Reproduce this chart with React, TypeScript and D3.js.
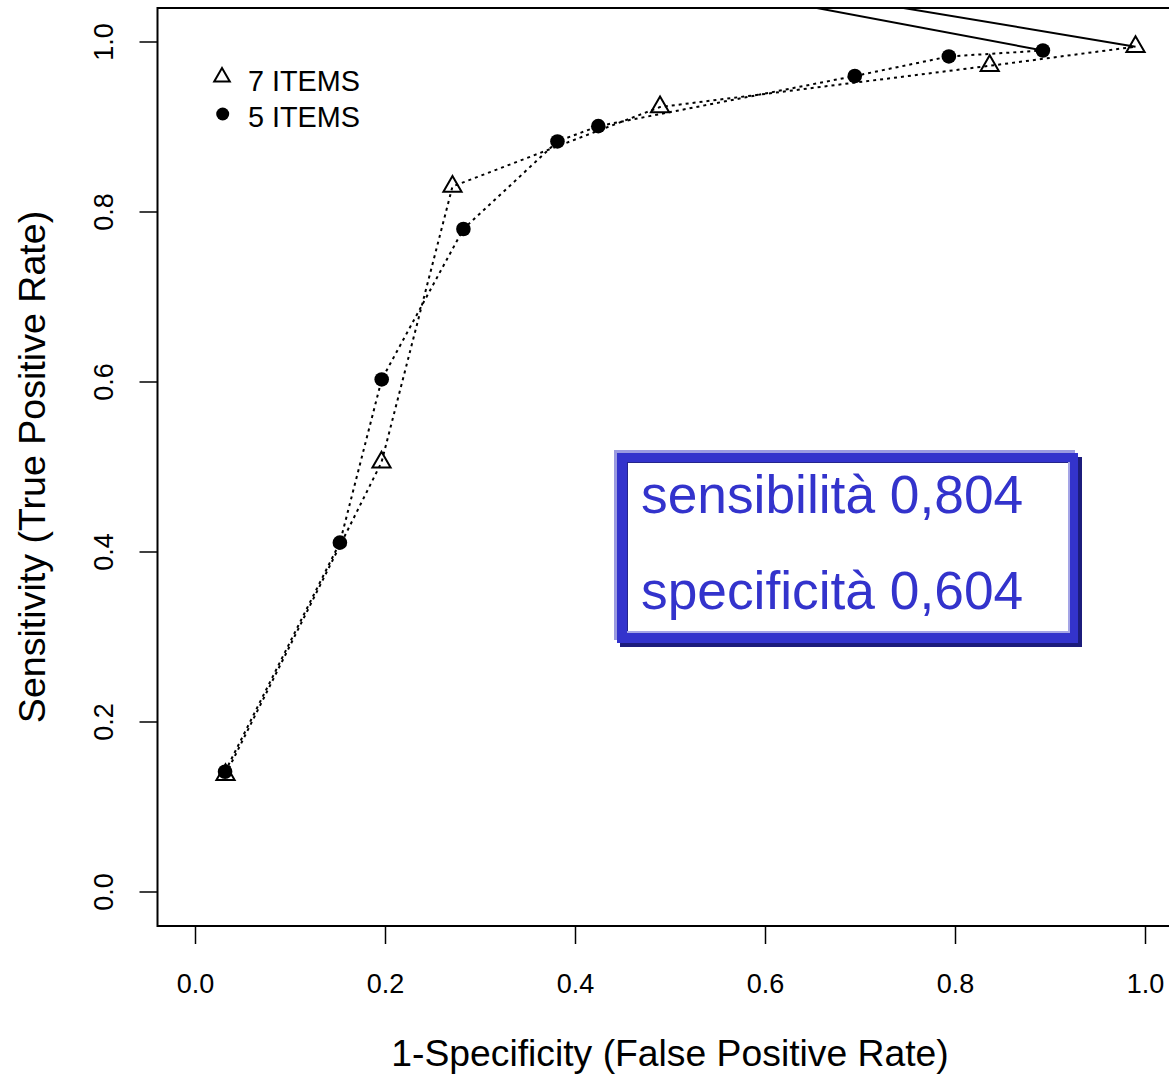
import React from "react";
import * as d3 from "d3";

// ---- data ----
const FPR_7 = [0.0316, 0.1958, 0.2705, 0.489, 0.836, 0.9895];
const TPR_7 = [0.138, 0.5055, 0.83, 0.9235, 0.972, 0.9945];
const FPR_5 = [0.0311, 0.152, 0.196, 0.282, 0.381, 0.424, 0.694, 0.793, 0.892];
const TPR_5 = [0.1415, 0.411, 0.603, 0.78, 0.883, 0.901, 0.96, 0.983, 0.99];
// off-plot end point the solid segments head to (clipped)
const TAIL_FPR = -0.06;
const TAIL_TPR = 1.19;
const TICKS = [0, 0.2, 0.4, 0.6, 0.8, 1.0];
const LEGEND_LABELS = ["7 ITEMS", "5 ITEMS"];
const BOX_LINES = ["sensibilità 0,804", "specificità 0,604"];
const X_TITLE = "1-Specificity (False Positive Rate)";
const Y_TITLE = "Sensitivity (True Positive Rate)";

const W = 1169;
const H = 1074;
const FONT = "'Liberation Sans', Arial, Helvetica, sans-serif";
const BLUE = "#3333cc";

export default function App() {
  const x = d3.scaleLinear().domain([-0.04, 1.04]).range([157.5, 1183.5]);
  const y = d3.scaleLinear().domain([-0.04, 1.04]).range([926, 8]);
  const fmt = d3.format(".1f");

  const pts7 = FPR_7.map((f, i) => [f, TPR_7[i]] as [number, number]);
  const pts5 = FPR_5.map((f, i) => [f, TPR_5[i]] as [number, number]);
  const line = d3
    .line<[number, number]>()
    .x((d) => x(d[0]))
    .y((d) => y(d[1]));

  const tail7: [number, number][] = [pts7[pts7.length - 1], [TAIL_FPR, TAIL_TPR]];
  const tail5: [number, number][] = [pts5[pts5.length - 1], [TAIL_FPR, TAIL_TPR]];

  const triR = 10.5;
  const tri = (cx: number, cy: number, r: number) => {
    const xc = (r * Math.sqrt(3)) / 2;
    return `M${cx},${cy - r}L${cx + xc},${cy + r / 2}L${cx - xc},${cy + r / 2}Z`;
  };

  const [x0, x1] = x.range();
  const [yb, yt] = y.range();

  // box geometry
  const bx = 617, by = 453, bw = 461, bh = 190;

  return (
    <div style={{ position: "absolute", left: 0, top: 0 }}>
      <svg width={W} height={H} style={{ display: "block", background: "#fff" }} fontFamily={FONT}>
        <defs>
          <clipPath id="plotclip">
            <rect x={x0} y={yt} width={x1 - x0} height={yb - yt} />
          </clipPath>
        </defs>
        <rect x={0} y={0} width={W} height={H} fill="#fff" />

        {/* frame */}
        <rect x={x0} y={yt} width={x1 - x0} height={yb - yt} fill="none" stroke="#000" strokeWidth={2} />

        {/* x axis ticks */}
        {TICKS.map((t) => (
          <g key={"xt" + t}>
            <line x1={x(t)} x2={x(t)} y1={yb} y2={yb + 18} stroke="#000" strokeWidth={1.5} />
            <text x={x(t)} y={993} textAnchor="middle" fontSize={27} fill="#000">
              {fmt(t)}
            </text>
          </g>
        ))}
        {/* y axis ticks */}
        {TICKS.map((t) => (
          <g key={"yt" + t}>
            <line x1={x0} x2={x0 - 18} y1={y(t)} y2={y(t)} stroke="#000" strokeWidth={1.5} />
            <text
              transform={`translate(113,${y(t)}) rotate(-90)`}
              textAnchor="middle"
              fontSize={27}
              fill="#000"
            >
              {fmt(t)}
            </text>
          </g>
        ))}

        {/* titles */}
        <text x={670} y={1066} textAnchor="middle" fontSize={37.3} fill="#000">
          {X_TITLE}
        </text>
        <text transform={`translate(45,${(yb + yt) / 2}) rotate(-90)`} textAnchor="middle" fontSize={37.6} fill="#000">
          {Y_TITLE}
        </text>

        {/* curves */}
        <g clipPath="url(#plotclip)">
          <path d={line(pts7) || ""} fill="none" stroke="#000" strokeWidth={2} strokeDasharray="3,4" />
          <path d={line(pts5) || ""} fill="none" stroke="#000" strokeWidth={2} strokeDasharray="3,4" />
          <path d={line(tail7) || ""} fill="none" stroke="#000" strokeWidth={2} />
          <path d={line(tail5) || ""} fill="none" stroke="#000" strokeWidth={2} />
          {pts7.map((p, i) => (
            <path key={"t" + i} d={tri(x(p[0]), y(p[1]), triR)} fill="none" stroke="#000" strokeWidth={2} />
          ))}
          {pts5.map((p, i) => (
            <circle key={"c" + i} cx={x(p[0])} cy={y(p[1])} r={7.3} fill="#000" />
          ))}
        </g>

        {/* legend */}
        <path d={tri(222, 77, 9)} fill="none" stroke="#000" strokeWidth={2} />
        <circle cx={222.7} cy={114} r={6.5} fill="#000" />
        <text x={248} y={91} fontSize={28.8} fill="#000">
          {LEGEND_LABELS[0]}
        </text>
        <text x={248} y={127} fontSize={28.8} fill="#000">
          {LEGEND_LABELS[1]}
        </text>

        {/* annotation box */}
        <rect x={bx - 3} y={by - 3} width={bw} height={bh} fill="#9a9ae0" />
        <rect x={bx + 3} y={by + 4} width={bw + 1} height={bh} fill="#1c1c7c" />
        <rect x={bx} y={by} width={bw} height={bh} fill={BLUE} />
        <rect x={bx + 10} y={by + 9} width={bw - 18} height={bh - 19} fill="#a5a5e6" />
        <rect x={bx + 10} y={by + 9} width={bw - 20} height={bh - 21} fill="#24248c" />
        <rect x={bx + 11} y={by + 10} width={bw - 21} height={bh - 22} fill="#fff" />
        <text x={641} y={513} fontSize={53.3} fill={BLUE}>
          {BOX_LINES[0]}
        </text>
        <text x={641} y={609} fontSize={53.3} fill={BLUE}>
          {BOX_LINES[1]}
        </text>
      </svg>
    </div>
  );
}
